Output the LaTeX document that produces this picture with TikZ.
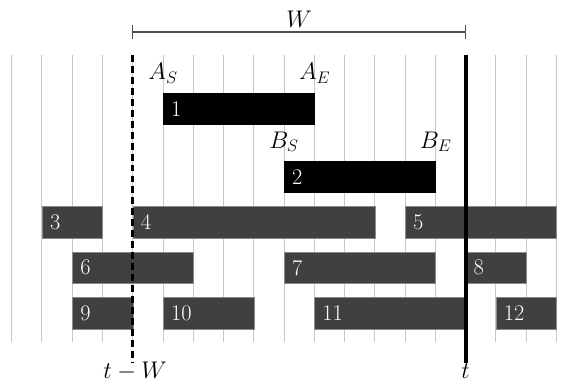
\RequirePackage{fix-cm}
\documentclass[tikz,border=0pt]{standalone}
\definecolor{gridgray}{HTML}{C8C8C8}
\definecolor{bardark}{HTML}{404040}
\definecolor{barline}{HTML}{8A8A8A}
\definecolor{brack}{HTML}{505050}
\newcommand{\taskbar}[6]{%
  \pgfmathsetmacro{\tbw}{#4-#3}%
  \pgfmathsetmacro{\tbt}{#4-#3-0.52}%
  \node[#1, anchor=west, minimum width=\tbw cm, text width=\tbt cm] (#2) at (#3,#5) {#6};}
\begin{document}
\begin{tikzpicture}[x=1cm,y=1cm,
  every node/.style={font=\fontsize{21}{25}\selectfont},
  gridline/.style={draw=gridgray, line width=0.9pt},
  barbase/.style={rectangle, minimum height=1.05cm, inner xsep=0.26cm, inner ysep=0pt, align=left, text=white},
  blackbar/.style={barbase, fill=black},
  graybar/.style={barbase, fill=bardark, draw=barline, line width=0.5pt},
  lbl/.style={anchor=base, inner sep=0pt, font=\fontsize{20.74}{25}\selectfont, scale=1.09, transform shape},
  winline/.style={line width=3.2pt, dash pattern=on 6.5pt off 3.8pt},
  nowline/.style={line width=3.8pt},
  bracket/.style={draw=brack, line width=1pt}]
\useasboundingbox (-0.387,0) rectangle (18.715,-12.657);
% grid
\foreach \i in {0,...,18} \draw[gridline] (\i,-1.818) -- (\i,-11.30);
% bars
\taskbar{blackbar}{b1}{5}{10}{-3.607}{1}
\taskbar{blackbar}{b2}{9}{14}{-5.856}{2}
\taskbar{graybar}{b3}{1}{3}{-7.34}{3}
\taskbar{graybar}{b4}{4}{12}{-7.34}{4}
\taskbar{graybar}{b5}{13}{18}{-7.34}{5}
\taskbar{graybar}{b6}{2}{6}{-8.85}{6}
\taskbar{graybar}{b7}{9}{14}{-8.85}{7}
\taskbar{graybar}{b8}{15}{17}{-8.85}{8}
\taskbar{graybar}{b9}{2}{4}{-10.35}{9}
\taskbar{graybar}{b10}{5}{8}{-10.35}{10}
\taskbar{graybar}{b11}{10}{15}{-10.35}{11}
\taskbar{graybar}{b12}{16}{18}{-10.35}{12}
% bar end labels
\node[lbl] (as) at ([yshift=0.45cm]b1.north west) {$A_S$};
\node[lbl] (ae) at ([yshift=0.45cm]b1.north east) {$A_E$};
\node[lbl] (bs) at ([yshift=0.42cm]b2.north west) {$B_S$};
\node[lbl] (be) at ([yshift=0.42cm]b2.north east) {$B_E$};
% window lines
\coordinate (twtop) at (4,-1.818);
\coordinate (twbot) at (4,-12.0);
\coordinate (ttop) at (15,-1.818);
\coordinate (tbot) at (15,-12.0);
\draw[winline] (twtop) -- (twbot);
\draw[nowline] (ttop) -- (tbot);
\node[lbl] (twlab) at (4.08,-12.5) {$t-W$};
\node[lbl] (tlab) at (15,-12.5) {$t$};
% W bracket
\coordinate (wl) at (4,-1.057);
\coordinate (wr) at (15,-1.057);
\draw[bracket] (wl) -- (wr);
\draw[bracket] ([yshift=0.23cm]wl) -- ([yshift=-0.23cm]wl);
\draw[bracket] ([yshift=0.23cm]wr) -- ([yshift=-0.23cm]wr);
\node[lbl] (wlab) at (9.5,-0.925) {$W$};
\end{tikzpicture}
\end{document}
